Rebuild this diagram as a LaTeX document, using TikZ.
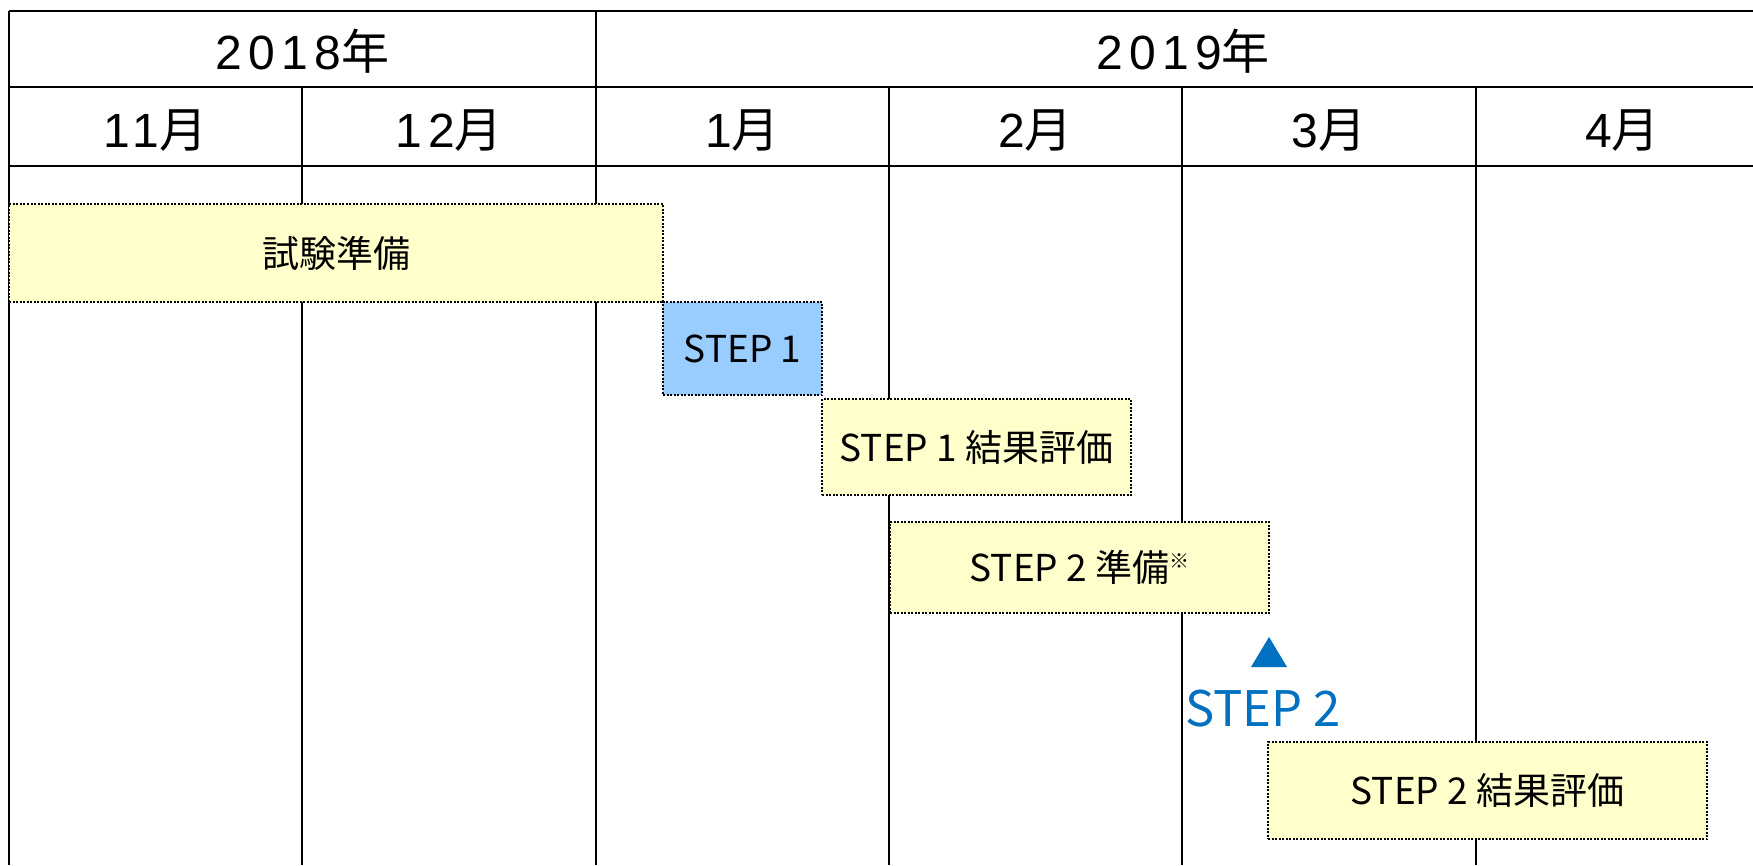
\documentclass[tikz,border=0pt]{standalone}
\usepackage{fontspec}
\setmainfont{Noto Sans CJK JP}
\newfontfamily\hdrfont[LetterSpace=13]{Liberation Sans}
\definecolor{taskyellow}{HTML}{FFFFCC}
\definecolor{taskblue}{HTML}{99CCFF}
\definecolor{markblue}{HTML}{0070C0}
\newcommand\hd[1]{{\hdrfont #1}}
\begin{document}
\begin{tikzpicture}[x=1pt,y=-1pt,
  gridline/.style={line width=2.6pt,black},
  hdr/.style={inner sep=0pt,font=\fontsize{48}{52}\selectfont},
  task/.style={draw=black,fill=taskyellow,line width=2pt,dash pattern=on 2pt off 1.5pt,
    inner sep=0pt,font=\fontsize{37}{40}\selectfont},
  bluetask/.style={task,fill=taskblue}]
\useasboundingbox (0,0) rectangle (1753,865);
\fill[white] (0,0) rectangle (1753,865);
% grid
\draw[gridline] (9,11) -- (1753,11);
\draw[gridline] (9,87) -- (1753,87);
\draw[gridline] (9,166) -- (1753,166);
\draw[gridline] (9,11) -- (9,865);
\draw[gridline] (596,11) -- (596,865);
\draw[gridline] (302,87) -- (302,865);
\draw[gridline] (889,87) -- (889,865);
\draw[gridline] (1182,87) -- (1182,865);
\draw[gridline] (1476,87) -- (1476,865);
% headers
\node[hdr] (y2018) at (302.5,51) {\hd{2018}年};
\node[hdr] (y2019) at (1183,51) {\hd{2019}年};
\node[hdr] (m11) at (155.5,131) {\hd{11}月};
\node[hdr] (m12) at (449,131) {\hd{12}月};
\node[hdr] (m1) at (742.5,131) {\hd{1}月};
\node[hdr] (m2) at (1035.5,131) {\hd{2}月};
\node[hdr] (m3) at (1329,131) {\hd{3}月};
\node[hdr] (m4) at (1622.5,131) {\hd{4}月};
% tasks
\node[task,minimum width=654,minimum height=98] (prep) at (336,253) {試験準備};
\node[bluetask,minimum width=159,minimum height=93] (step1) at (742.5,348.5) {STEP 1};
\node[task,minimum width=309,minimum height=96] (eval1) at (976.5,447) {STEP 1 結果評価};
\node[task,minimum width=379,minimum height=91] (prep2) at (1079.5,567.5) {STEP 2 準備\raisebox{13pt}{\fontsize{20}{20}\selectfont ※}};
\node[task,minimum width=439,minimum height=97] (eval2) at (1487.5,790.5) {STEP 2 結果評価};
% milestone
\fill[markblue] (1251,667) -- (1287,667) -- (1269,637) -- cycle;
\node[inner sep=0pt,text=markblue,font=\fontsize{49}{52}\selectfont\addfontfeature{FakeBold=0}] (ms2) at (1263,709) {STEP 2};
\end{tikzpicture}
\end{document}
